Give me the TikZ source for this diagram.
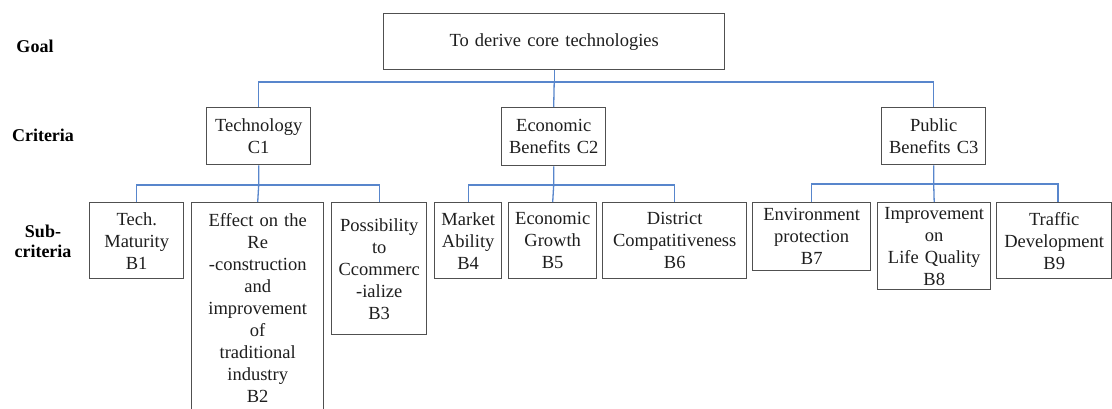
\documentclass[tikz,border=0pt]{standalone}
\usepackage{fontspec}
\setmainfont{Liberation Serif}
\definecolor{conncol}{RGB}{88,134,204}
\definecolor{boxcol}{RGB}{80,80,80}
\definecolor{txtcol}{RGB}{30,30,30}
\tikzset{
  box/.style={draw=boxcol, line width=1.4pt, anchor=north west, inner sep=0pt, align=center,
     text=txtcol, font=\fontsize{18.5}{22}\selectfont},
  conn/.style={draw=conncol, line width=1.3pt},
  lvl/.style={font=\fontsize{18}{20}\selectfont\bfseries, align=center, text=black}
}
\newcommand{\bx}[7]{% name, x1, y1, x2, y2, text
  \pgfmathsetmacro{\bw}{#4-#2}\pgfmathsetmacro{\bh}{#5-#3}
  \node[box, minimum width=\bw pt, minimum height=\bh pt, text width=\bw pt] (#1) at (#2,#3) {#6};}
\begin{document}
\begin{tikzpicture}[x=1pt,y=-1pt]
\clip (0,0) rectangle (1112,408);
\fill[white] (0,0) rectangle (1112,408);
% level labels
\node[lvl] (lgoal) at (35,46) {Goal};
\node[lvl] (lcrit) at (43,135) {Criteria};
\node[lvl] (lsub) at (43,241) {Sub-\\criteria};
% boxes
\bx{goal}{383}{13}{724}{69}{To derive core technologies}{}
\bx{C1}{206}{107}{310}{164}{Technology\\C1}{}
\bx{C2}{501}{107}{605}{165}{Economic\\Benefits C2}{}
\bx{C3}{881}{107}{985}{164}{Public\\Benefits C3}{}
\bx{B1}{89}{202}{183}{278}{Tech.\\Maturity\\B1}{}
\bx{B2}{191}{202}{323}{412}{Effect on the\\Re\\-construction\\and\\improvement\\of\\traditional\\industry\\B2}{}
\bx{B3}{331}{202}{426}{334}{Possibility\\to\\Ccommerc\\-ialize\\B3}{}
\bx{B4}{434}{202}{501}{278}{Market\\Ability\\B4}{}
\bx{B5}{508}{202}{596}{278}{Economic\\Growth\\B5}{}
\bx{B6}{602}{202}{746}{278}{District\\Compatitiveness\\B6}{}
\bx{B7}{752}{202}{870}{270}{Environment\\protection\\B7}{}
\bx{B8}{877}{202}{990}{289}{Improvement\\on\\Life Quality\\B8}{}
\bx{B9}{996}{202}{1111}{278}{Traffic\\Development\\B9}{}
% connectors: goal -> criteria
\coordinate (bus0) at (goal.south |- 0,82);
\draw[conn] (goal.south) -- (bus0);
\draw[conn] (C1.north) |- (bus0) -| (C3.north);
\draw[conn] (bus0) -- (C2.north);
% C1 -> B1..B3
\coordinate (bus1) at (C1.south |- 0,185);
\draw[conn] (C1.south) -- (bus1) -- (B2.north);
\draw[conn] (B1.north) |- (bus1) -| (B3.north);
% C2 -> B4..B6
\coordinate (bus2) at (C2.south |- 0,185);
\draw[conn] (C2.south) -- (bus2) -- (B5.north);
\draw[conn] (B4.north) |- (bus2) -| (B6.north);
% C3 -> B7..B9
\coordinate (bus3) at (C3.south |- 0,184);
\coordinate (b9top) at (B9.north -| 1058,0);
\draw[conn] (C3.south) -- (bus3) -- (B8.north);
\draw[conn] (B7.north) |- (bus3) -| (b9top);
\end{tikzpicture}
\end{document}
